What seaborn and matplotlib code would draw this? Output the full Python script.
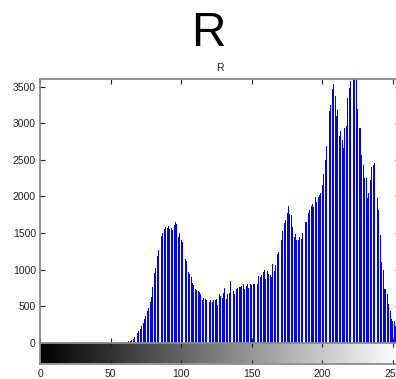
import numpy as np
import pandas as pd
import matplotlib
matplotlib.use("Agg")
import matplotlib.pyplot as plt
import seaborn as sns

# ---- data ----
levels = list(range(256))
counts = [
    0, 0, 0, 0, 0, 0, 0, 0, 0, 0, 0, 0, 0, 0, 0, 0, 0, 0, 0, 0,
    0, 0, 0, 0, 0, 0, 0, 0, 0, 0, 0, 0, 0, 0, 0, 0, 0, 0, 0, 0,
    0, 0, 0, 0, 0, 0, 0, 0, 0, 0, 0, 0, 0, 0, 0, 0, 0, 0, 0, 0,
    0, 0,
    15, 25, 30, 35, 55, 75, 100, 130, 160, 190,               # 62-71
    225, 270, 320, 360, 430, 480, 560, 620, 760, 950,         # 72-81
    1020, 1180, 1270, 1380, 1460, 1500, 1550, 1580, 1570, 1590,  # 82-91
    1560, 1565, 1540, 1610, 1650, 1620, 1450, 1500, 1400, 1380,  # 92-101
    1300, 1150, 1120, 960, 940, 900, 820, 785, 740, 720,      # 102-111
    700, 690, 670, 590, 615, 600, 590, 577, 555, 586,         # 112-121
    554, 577, 577, 600, 510, 668, 645, 613, 680, 751,         # 122-131
    600, 668, 682, 842, 714, 700, 668, 737, 751, 760,         # 132-141
    760, 780, 806, 737, 770, 797, 751, 806, 785, 800,         # 142-151
    806, 852, 806, 907, 900, 920, 960, 998, 875, 980,         # 152-161
    934, 920, 900, 1071, 980, 1058, 1209, 1241, 1300, 1401,   # 162-171
    1525, 1639, 1676, 1776, 1868, 1758, 1744, 1584, 1447, 1484,  # 172-181
    1401, 1401, 1447, 1424, 1493, 1584, 1653, 1653, 1768, 1813,  # 182-191
    1868, 1896, 1850, 1987, 1927, 1996, 2019, 2051, 2157, 2308,  # 192-201
    2500, 2683, 2797, 3164, 3242, 3471, 3530, 3370, 3095, 3187,  # 202-211
    2820, 2889, 2775, 2660, 2935, 2958, 3347, 3485, 3576, 3720,  # 212-221
    3810, 3760, 3680, 3196, 2935, 2935, 2569, 2431, 2248, 2248,  # 222-231
    1973, 2042, 2225, 2399, 2431, 2454, 2271, 1973, 1813, 1470,  # 232-241
    1103, 989, 737, 737, 659, 531, 440, 325, 302, 302,        # 242-251
    233, 190, 140, 90,                                        # 252-255
]
x_ticks = [0, 50, 100, 150, 200, 250]
y_ticks = [0, 500, 1000, 1500, 2000, 2500, 3000, 3500]
big_title = "R"
small_title = "R"

# ---- style ----
sns.set_style("white")
plt.rcParams["font.family"] = ["Liberation Sans", "DejaVu Sans"]

W, H = 396, 379
fig = plt.figure(figsize=(W / 100, H / 100), dpi=100)
ax_top, ax_bot, cb_bot = 79.3, 342.7, 363.5
ax = fig.add_axes([40 / W, (H - ax_bot) / H, 360 / W, (ax_bot - ax_top) / H])
cax = fig.add_axes([40 / W, (H - cb_bot) / H, 360 / W, (cb_bot - ax_bot) / H])

df = pd.DataFrame({"level": levels, "count": counts})
sns.barplot(data=df, x="level", y="count", native_scale=True, width=0.7,
            color="#0000ff", saturation=1, errorbar=None, linewidth=0, ax=ax)

ax.set_xlim(0, 255)
ax.set_ylim(0, 3600)
ax.set_xticks(x_ticks)
ax.set_xticklabels([])
ax.set_yticks(y_ticks)
ax.set_yticklabels([str(v) for v in y_ticks], fontsize=7.5, color="#222222")
ax.set_xlabel("")
ax.set_ylabel("")
ax.tick_params(direction="in", top=True, right=True, bottom=True, left=True,
               length=3.5, width=0.8, color="#222222", pad=3)
ax.set_title(small_title, fontsize=7.5, pad=6.2, color="#222222")
for s in ax.spines.values():
    s.set_color("#8a8a8a")
    s.set_linewidth(1.3)
ax.spines["bottom"].set_visible(False)

# gray-level colour bar
cax.imshow(np.arange(256)[None, :], cmap="gray", aspect="auto",
           extent=(0, 255, 0, 1), vmin=0, vmax=255, interpolation="bilinear")
cax.set_xlim(0, 255)
cax.set_ylim(0, 1)
cax.set_xticks(x_ticks)
cax.set_xticklabels([str(v) for v in x_ticks], fontsize=7.5, color="#222222")
cax.set_yticks([])
cax.tick_params(axis="x", direction="in", top=True, bottom=True,
                length=3, width=0.8, color="#222222", pad=4)
for s in cax.spines.values():
    s.set_color("#8a8a8a")
    s.set_linewidth(1.3)

fig.text(208.7 / W, (H - 46) / H, big_title, fontsize=34.5,
         ha="center", va="baseline", color="black")

fig.savefig("out.png", dpi=100)
